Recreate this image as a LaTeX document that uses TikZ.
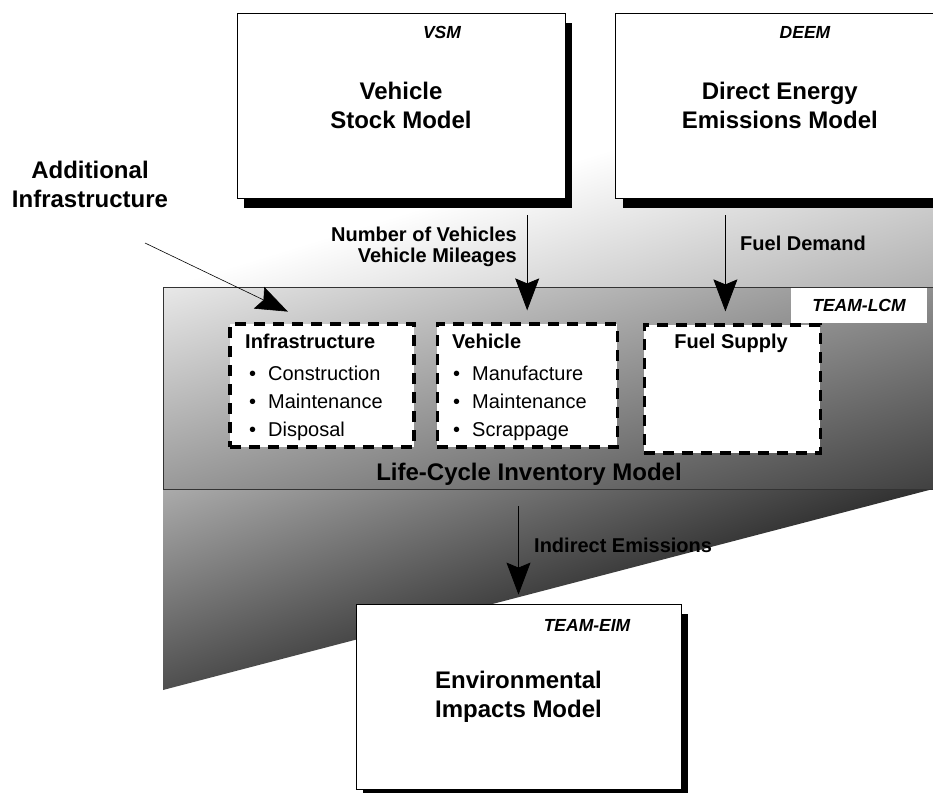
\documentclass[tikz,border=0pt]{standalone}
\usepackage{fontspec}
\setmainfont{Liberation Sans}
\usetikzlibrary{calc,arrows.meta,positioning,shadows}
% grey ramps, u = (x-25)/50, v = (y-25)/50 over the shaded box
\pgfdeclarefunctionalshading{upperramp}{\pgfpointorigin}{\pgfpoint{100bp}{100bp}}{}{
  25 sub 50 div 0.31 mul exch 25 sub 50 div -0.31 mul add 1 add
  dup 0 lt {pop 0} if dup 1 gt {pop 1} if dup dup}
\pgfdeclarefunctionalshading{lcmramp}{\pgfpointorigin}{\pgfpoint{100bp}{100bp}}{}{
  25 sub 50 div 0.31 mul exch 25 sub 50 div -0.35 mul add 0.60 add
  dup 0 lt {pop 0} if dup 1 gt {pop 1} if dup dup}
\pgfdeclarefunctionalshading{lowerramp}{\pgfpointorigin}{\pgfpoint{100bp}{100bp}}{}{
  25 sub 50 div 0.36 mul exch 25 sub 50 div -0.48 mul add 0.31 add
  dup 0 lt {pop 0} if dup 1 gt {pop 1} if dup dup}
\tikzset{
  modelbox/.style={draw=black,line width=0.8pt,fill=white,minimum width=328pt,minimum height=185pt,
    align=center,font=\fontsize{24}{29}\selectfont\bfseries,
    drop shadow={shadow xshift=7pt,shadow yshift=-10pt,fill=black,opacity=1}},
  lcmbox/.style={draw=black!80,line width=0.8pt,shade,shading=lcmramp},
  tagtext/.style={font=\fontsize{17.5}{20}\selectfont\bfseries\itshape,inner sep=0pt},
  titletext/.style={font=\fontsize{24}{29}\selectfont\bfseries,align=center,inner sep=0pt},
  flowtext/.style={font=\fontsize{20}{21}\selectfont\bfseries,align=right,inner sep=0pt},
  partbox/.style={draw=black,fill=white,line width=3.2pt,dash pattern=on 11pt off 8pt,minimum height=123pt,inner sep=0pt},
  parthead/.style={font=\fontsize{20}{22}\selectfont\bfseries,inner sep=0pt,anchor=base west},
  partitem/.style={font=\fontsize{20}{22}\selectfont,inner sep=0pt,anchor=base west},
  bigarrow/.style={-{Stealth[length=32pt,width=24pt,inset=5pt]},line width=0.8pt}
}
\begin{document}
\begin{tikzpicture}[x=1pt,y=-1pt]
\path[use as bounding box] (0,0) rectangle (933,792);
\clip (0,0) rectangle (933,792);
% shaded funnel
\shade[shading=upperramp] (163,287) -- (933,287) -- (933,50) -- cycle;
\shade[shading=lowerramp] (163,489) -- (933,489) -- (163,690) -- cycle;
\node[lcmbox,minimum width=777pt,minimum height=202pt] (lcm) at (551.5,388) {};
\node[fill=white,minimum width=136pt,minimum height=35pt,tagtext] (lcmtag) at (859,305) {TEAM-LCM};
\node[titletext,anchor=base] (lcmname) at (529,480) {Life-Cycle Inventory Model};

% models
\node[modelbox] (vsm) at (401,105.5) {Vehicle\\Stock Model};
\node[modelbox,right=50pt of vsm] (deem) {Direct Energy\\Emissions Model};
\node[modelbox,minimum width=325pt] (eim) at (518.5,696.5) {Environmental\\Impacts Model};
\node[tagtext] (vsmtag) at (442,32) {VSM};
\node[tagtext] (deemtag) at (805,32) {DEEM};
\node[tagtext] (eimtag) at (587,625) {TEAM-EIM};
\node[titletext] (addl) at (90,184) {Additional\\Infrastructure};

% inventory parts
\node[partbox,minimum width=184pt] (infra) at (322,385.5) {};
\node[partbox,minimum width=180pt,right=20pt of infra] (veh) {};
\node[partbox,minimum width=176pt,minimum height=128pt,right=24pt of veh,yshift=-3.5pt] (fuel) {};
\node[parthead] (infrahead) at (245,348) {Infrastructure};
\foreach \t [count=\i] in {Construction,Maintenance,Disposal}
  \node[partitem] (infra-\i) at (249,352+28*\i) {\makebox[19pt][l]{\textbullet}\t};
\node[parthead] (vehhead) at (452,348) {Vehicle};
\foreach \t [count=\i] in {Manufacture,Maintenance,Scrappage}
  \node[partitem] (veh-\i) at (453,352+28*\i) {\makebox[19pt][l]{\textbullet}\t};
\node[parthead,anchor=base] (fuelhead) at (731,348) {Fuel Supply};

% flows
\coordinate (fuelin) at ([xshift=-7pt]fuel.north);
\coordinate (addlfrom) at (145,243);
\draw[bigarrow,shorten <=17pt,shorten >=12pt] (veh.north |- vsm.south) -- (veh.north);
\draw[bigarrow,shorten <=17pt,shorten >=12pt] (fuelin |- deem.south) -- (fuelin);
\draw[bigarrow,shorten <=17pt,shorten >=9pt] (eim.north |- lcm.south) -- (eim.north);
\draw[bigarrow,line width=0.6pt,shorten >=25pt] (addlfrom) -- ($(infra.north west)+(82,0)$);
\node[flowtext,anchor=east] (vsmflow) at (517,247) {Number of Vehicles\\Vehicle Mileages};
\node[flowtext,anchor=west] (deemflow) at (740,243) {Fuel Demand};
\node[flowtext,anchor=west] (lcmflow) at (534,545) {Indirect Emissions};
\end{tikzpicture}
\end{document}
